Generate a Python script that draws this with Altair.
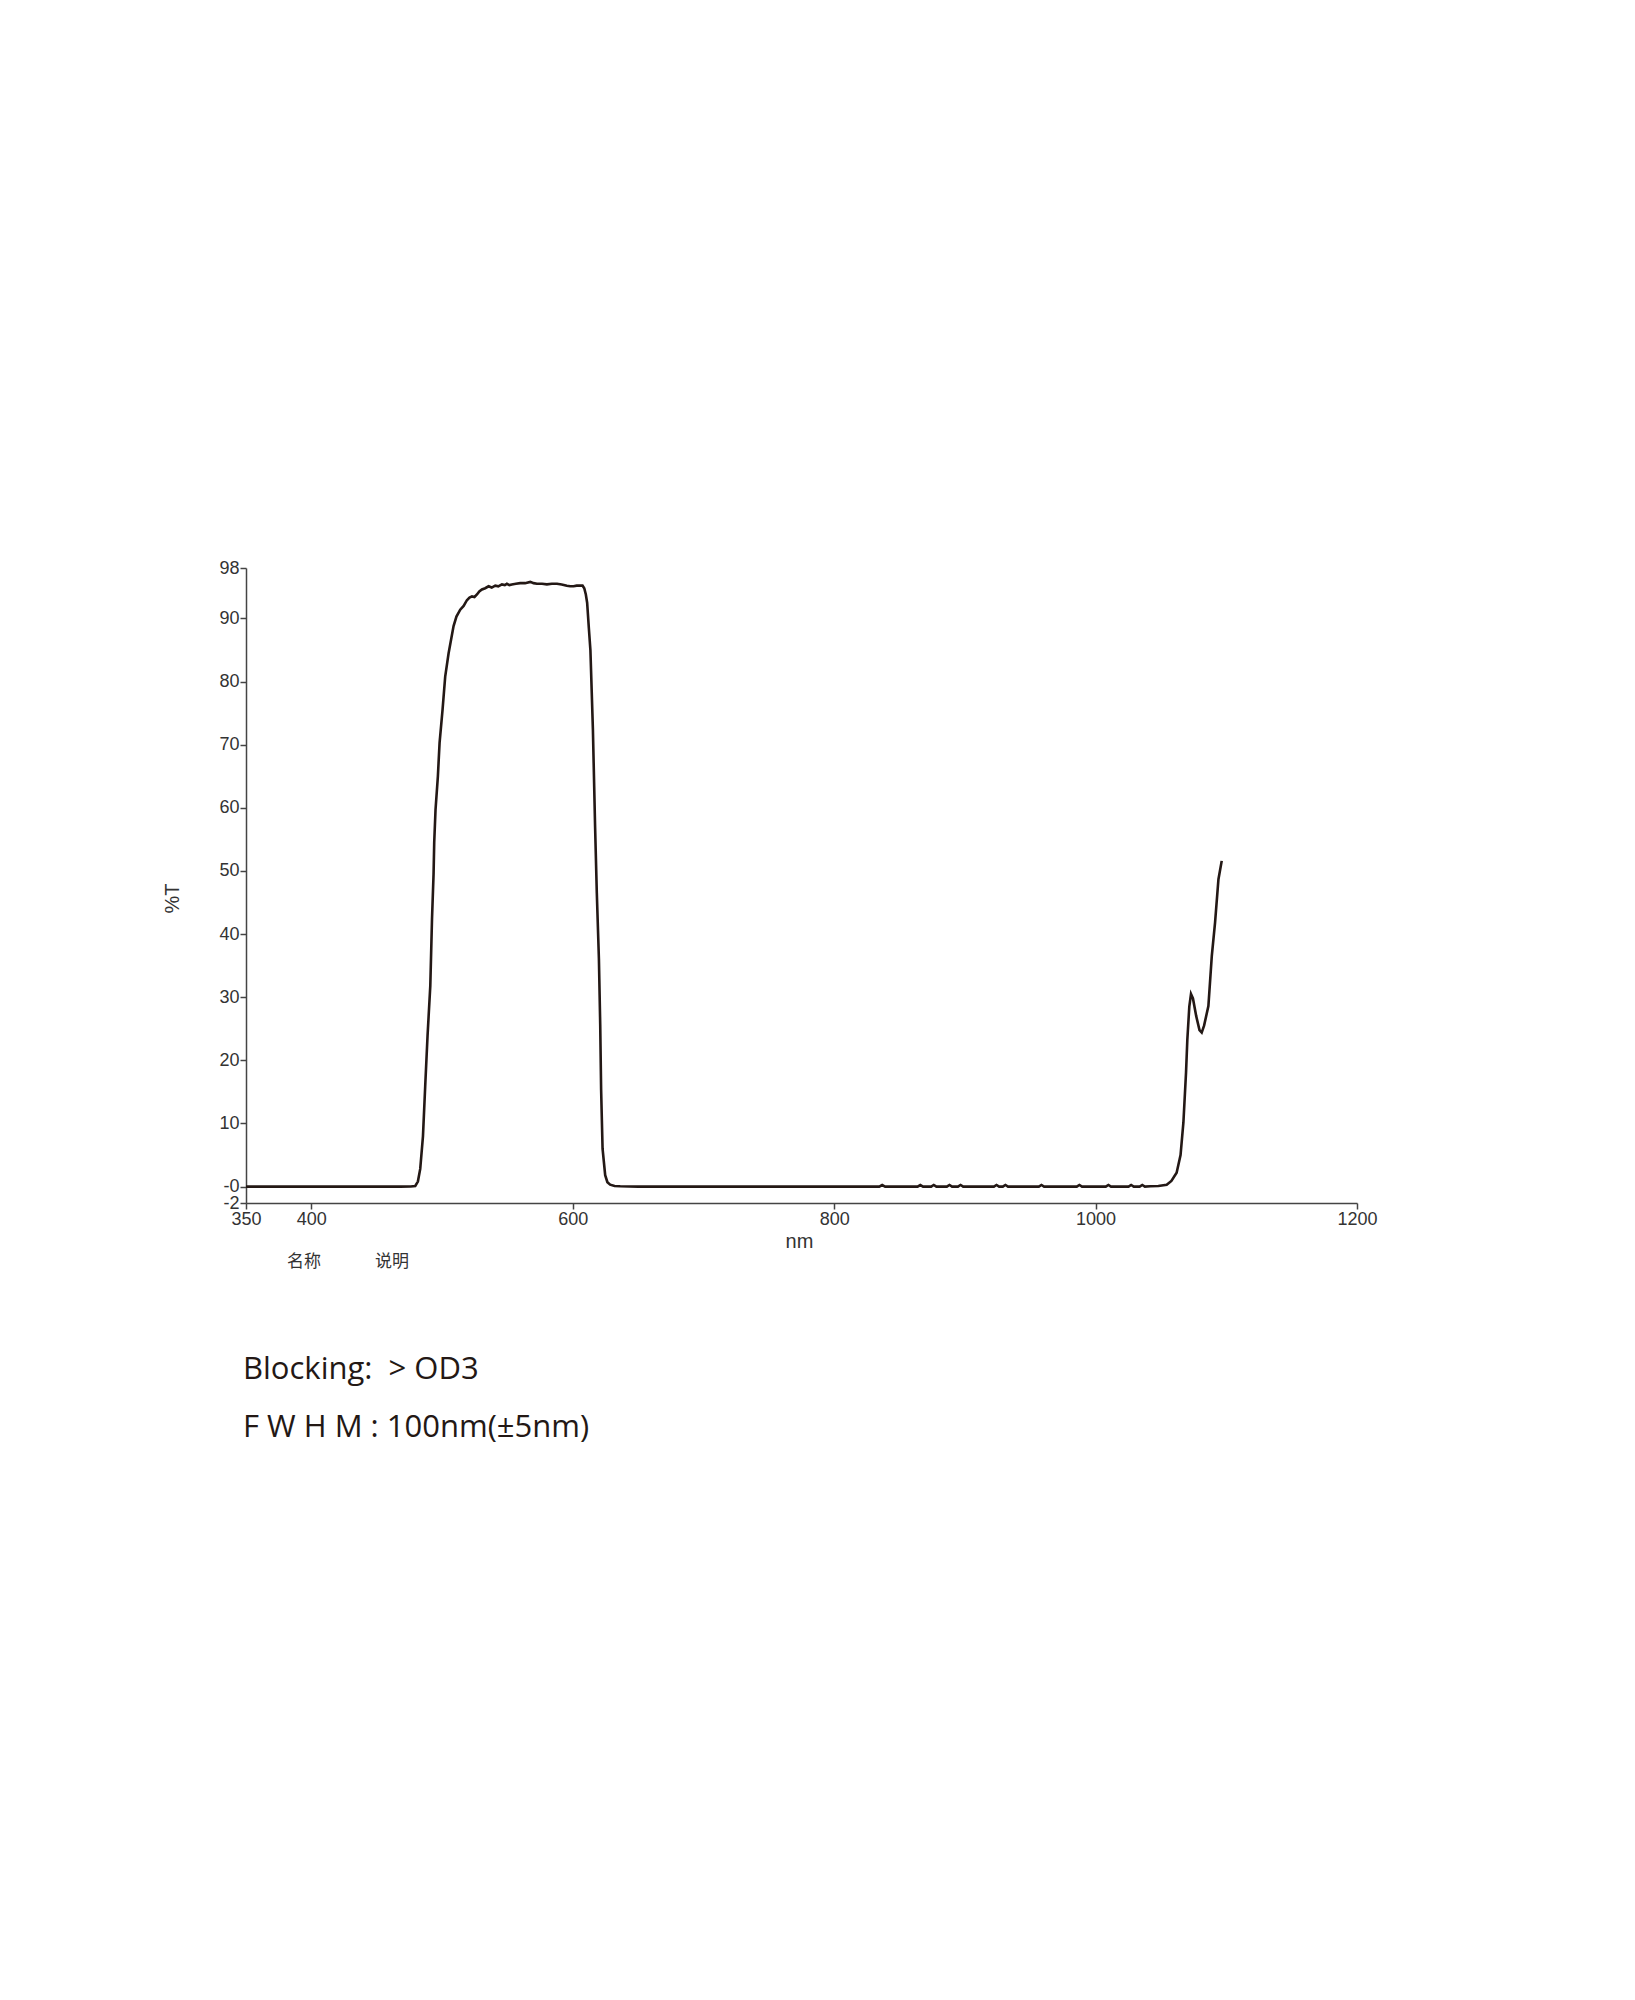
import altair as alt
import pandas as pd

# ---- data ----
wavelength = [350, 400, 450, 468, 476, 479.5, 481.5, 483.3, 485.4, 487.1, 488.9, 491.0,
              492.3, 493.5, 494.0, 495.0, 496.8, 498.1, 500.4, 502.4, 505.0, 508.8,
              511.0, 513.9, 516.5, 519.0, 521.0, 522.9, 524.8, 526.7, 528.5, 530.5,
              533.0, 535.6, 538.0, 540.7, 543.0, 545.8, 548.0, 549.6, 551.5, 553.4,
              556.5, 559.8, 563.5, 567.5, 570.0, 572.6, 576.5, 580.2, 584.0, 587.9,
              591.5, 595.5, 598.0, 600.6, 603.0, 605.7, 607.5, 608.8, 610.0, 611.0,
              612.3, 613.5, 615.4, 617.1, 618.4, 620.0, 621.0, 621.7, 622.8, 624.8,
              626.5, 628.6, 632.0, 636.3, 650, 700, 750, 800, 834.5, 836.7, 839.0,
              863.8, 865.9, 868.0, 874.2, 876.2, 878.2, 886.2, 888.2, 890.2, 894.7,
              896.7, 898.7, 922.2, 924.2, 926.2, 929.0, 931.0, 933.0, 956.6, 958.6,
              960.6, 985.6, 987.6, 989.6, 1007.8, 1009.8, 1011.8, 1025.2, 1027.2,
              1029.2, 1033.7, 1035.7, 1037.7, 1042, 1048, 1054.4, 1058, 1062, 1065,
              1067.2, 1069.2, 1070.2, 1071.7, 1073.0, 1074.5, 1077.0, 1079.5, 1081.2,
              1083.0, 1086.3, 1088.9, 1091.4, 1094.0, 1096.5]
transmission = [0, 0, 0, 0, 0.02, 0.1, 0.8, 2.8, 8.0, 15.9, 23.9, 31.8,
                42.3, 49.5, 54.5, 59.7, 65.0, 70.3, 75.6, 80.8, 84.5, 88.8,
                90.3, 91.4, 92.0, 92.9, 93.3, 93.5, 93.4, 93.8, 94.3, 94.6,
                94.8, 95.1, 94.9, 95.2, 95.1, 95.4, 95.3, 95.5, 95.3, 95.4,
                95.5, 95.6, 95.6, 95.8, 95.6, 95.5, 95.5, 95.4, 95.5, 95.5,
                95.4, 95.2, 95.1, 95.1, 95.2, 95.2, 95.2, 94.8, 93.8, 92.5,
                88.5, 85.0, 72.5, 56.9, 46.5, 36.1, 25.7, 15.3, 6.0, 1.8,
                0.7, 0.3, 0.1, 0.05, 0, 0, 0, 0, 0, 0.25, 0,
                0, 0.25, 0, 0, 0.25, 0, 0, 0.25, 0, 0,
                0.25, 0, 0, 0.25, 0, 0, 0.25, 0, 0, 0.25,
                0, 0, 0.25, 0, 0, 0.25, 0, 0, 0.25,
                0, 0, 0.25, 0, 0.05, 0.1, 0.3, 0.9, 2.2, 5.0,
                10.2, 18.1, 23.3, 28.5, 30.5, 29.8, 27.0, 24.8, 24.4,
                25.5, 28.6, 36.5, 41.8, 48.7, 51.6]

x_ticks = [350, 400, 600, 800, 1000, 1200]
y_ticks = [-2.6, 0, 10, 20, 30, 40, 50, 60, 70, 80, 90, 98]
legend_labels = ["名称", "说明"]
note_lines = ["Blocking:\u00a0\u00a0> OD3", "F\u00a0W\u00a0H\u00a0M\u00a0: 100nm(±5nm)"]

df = pd.DataFrame({"nm": wavelength, "T": transmission})

W, H = 1111, 635
AX = "#444444"
TXT = "#333333"
INK = "#231815"

line = alt.Chart(df).mark_line(color=INK, strokeWidth=2.6).encode(
    x=alt.X("nm:Q",
            scale=alt.Scale(domain=[350, 1200], nice=False, zero=False),
            axis=alt.Axis(values=x_ticks, title="nm", grid=False, labelFlush=False,
                          labelOverlap=False, format="d", domainColor=AX, domainWidth=1.5,
                          tickColor=AX, tickWidth=1.5, tickSize=6,
                          labelFont="Liberation Sans", labelFontSize=18, labelColor=TXT,
                          labelPadding=1,
                          titleFont="Liberation Sans", titleFontSize=20,
                          titleFontWeight="normal", titleColor=TXT,
                          titleX=553, titleY=38, titleBaseline="middle",
                          titleAlign="center")),
    y=alt.Y("T:Q",
            scale=alt.Scale(domain=[-2.6, 98], nice=False, zero=False),
            axis=alt.Axis(values=y_ticks, title="%T", grid=False, labelOverlap=False,
                          labelFlush=False,
                          labelExpr="datum.value < -1 ? '-2' : (datum.value == 0 ? '-0' : datum.label)",
                          domainColor=AX, domainWidth=1.5,
                          tickColor=AX, tickWidth=1.5, tickSize=6,
                          labelFont="Liberation Sans", labelFontSize=18, labelColor=TXT,
                          labelPadding=1,
                          titleFont="Liberation Sans", titleFontSize=20,
                          titleFontWeight="normal", titleColor=TXT,
                          titleAngle=270, titleX=-74, titleY=330,
                          titleBaseline="middle", titleAlign="center")),
)

one = pd.DataFrame({"k": [0]})

lab1 = alt.Chart(one).mark_text(text=legend_labels[0], font="Noto Sans CJK SC",
                                fontSize=17, color=TXT, align="center",
                                baseline="middle").encode(x=alt.value(58), y=alt.value(694))
lab2 = alt.Chart(one).mark_text(text=legend_labels[1], font="Noto Sans CJK SC",
                                fontSize=17, color=TXT, align="center",
                                baseline="middle").encode(x=alt.value(146), y=alt.value(694))
note1 = alt.Chart(one).mark_text(text=note_lines[0], font="Open Sans", fontSize=31,
                                 color=INK, align="left",
                                 baseline="alphabetic").encode(x=alt.value(-3), y=alt.value(811))
note2 = alt.Chart(one).mark_text(text=note_lines[1], font="Open Sans", fontSize=31,
                                 color=INK, align="left",
                                 baseline="alphabetic").encode(x=alt.value(-3), y=alt.value(869))

chart = alt.layer(line, lab1, lab2, note1, note2).properties(
    width=W, height=H,
    padding={"left": 238, "top": 560, "right": 60, "bottom": 300},
    autosize=alt.AutoSizeParams(type="none"),
    background="white",
).configure_view(strokeWidth=0)

chart.save("out.html", embed_options={"renderer": "svg", "actions": False})
